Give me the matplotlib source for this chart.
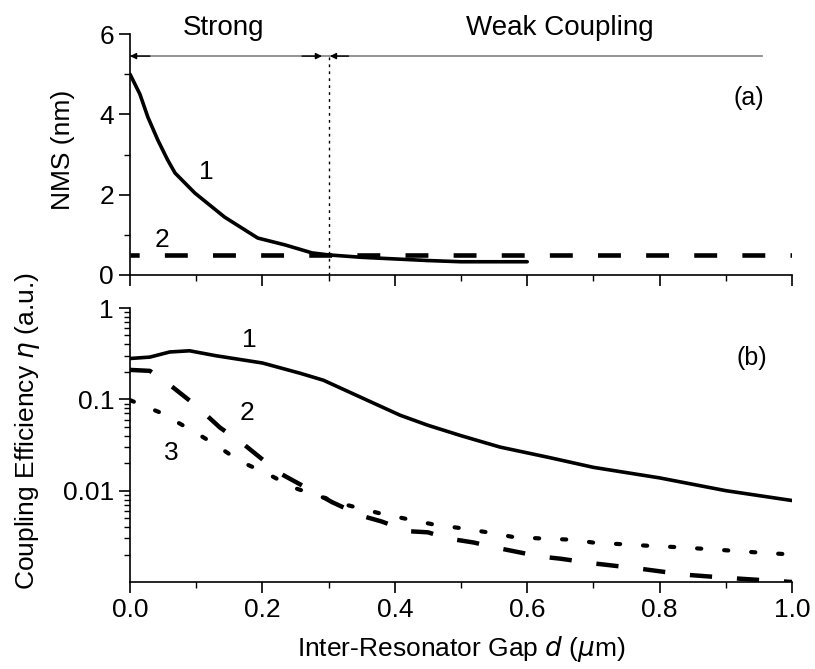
import matplotlib
matplotlib.use("Agg")
import matplotlib.pyplot as plt
from matplotlib.ticker import MultipleLocator, FixedLocator, LogLocator, NullFormatter

plt.rcParams['font.family'] = ['Liberation Sans', 'DejaVu Sans']

# ---- data: panel (a) NMS (nm) ----
a1_x = [0.0, 0.015, 0.027, 0.042, 0.057, 0.068, 0.098, 0.143, 0.193, 0.234, 0.275, 0.30,
        0.35, 0.4, 0.45, 0.5, 0.6]
a1_y = [5.0, 4.5, 3.93, 3.36, 2.86, 2.54, 2.04, 1.44, 0.92, 0.75, 0.55, 0.50,
        0.44, 0.40, 0.36, 0.33, 0.33]
a2_x = [0.0, 1.0]
a2_y = [0.5, 0.5]

# ---- data: panel (b) coupling efficiency ----
b1_x = [0.0, 0.03, 0.06, 0.09, 0.13, 0.2, 0.257, 0.292, 0.358, 0.408, 0.45, 0.5, 0.559, 0.634,
        0.7, 0.8, 0.9, 1.0]
b1_y = [0.28, 0.29, 0.33, 0.34, 0.30, 0.25, 0.193, 0.162, 0.098, 0.067, 0.052, 0.040, 0.030, 0.023,
        0.018, 0.0138, 0.010, 0.0078]
b2_x = [0.0, 0.03, 0.065, 0.1, 0.136, 0.17, 0.207, 0.23, 0.28, 0.305, 0.35, 0.38, 0.42, 0.45,
        0.48, 0.52, 0.55, 0.59, 0.62, 0.65, 0.7, 0.77, 0.84, 0.91, 1.0]
b2_y = [0.21, 0.205, 0.135, 0.085, 0.049, 0.033, 0.020, 0.015, 0.0095, 0.0075, 0.0053, 0.0046,
        0.0036, 0.0035, 0.0030, 0.0027, 0.0024, 0.0021, 0.0019, 0.0018, 0.0016, 0.0014, 0.0012,
        0.0011, 0.0010]
b3_x = [0.0, 0.045, 0.086, 0.126, 0.166, 0.207, 0.247, 0.29, 0.33, 0.375, 0.418, 0.456, 0.498,
        0.54, 0.58, 0.62, 0.67, 0.70, 0.74, 0.78, 0.83, 0.87, 0.91, 0.95, 1.0]
b3_y = [0.098, 0.072, 0.049, 0.033, 0.021, 0.0154, 0.0108, 0.0085, 0.0069, 0.0057, 0.0049, 0.0043,
        0.0039, 0.0035, 0.0031, 0.0030, 0.0029, 0.0027, 0.0026, 0.0025, 0.0024, 0.0023, 0.0022,
        0.0021, 0.0020]

region_boundary = 0.3
arrow_y = 5.45

W, H = 815, 669
fig = plt.figure(figsize=(W / 100, H / 100), dpi=100)
L, R = 130 / W, 792 / W
ax1 = fig.add_axes([L, 1 - 275 / H, R - L, (275 - 34) / H])
ax2 = fig.add_axes([L, 1 - 582 / H, R - L, (582 - 308) / H])

tick_fs = 19
lab_fs = 19

for ax in (ax1, ax2):
    ax.spines['top'].set_visible(False)
    ax.spines['right'].set_visible(False)
    ax.spines['left'].set_linewidth(1.2)
    ax.spines['bottom'].set_linewidth(1.2)
    ax.set_xlim(0, 1.0)
    ax.xaxis.set_major_locator(MultipleLocator(0.2))
    ax.xaxis.set_minor_locator(MultipleLocator(0.1))
    ax.tick_params(which='major', direction='out', length=8, width=1.2, labelsize=tick_fs)
    ax.tick_params(which='minor', direction='out', length=4, width=1.0)

# ---- panel (a) ----
ax1.plot(a1_x, a1_y, color='black', lw=2.6, solid_capstyle='round')
ax1.plot(a2_x, a2_y, color='black', lw=3.3, linestyle=(3, (5, 5.5)))
ax1.set_ylim(0, 6)
ax1.yaxis.set_major_locator(MultipleLocator(2))
ax1.yaxis.set_minor_locator(MultipleLocator(1))
ax1.tick_params(axis='x', labelbottom=False)
ax1.set_ylabel('NMS (nm)', fontsize=lab_fs)
ax1.yaxis.set_label_coords(-0.083, 0.52)

# region markers
ax1.plot([region_boundary, region_boundary], [0, arrow_y], color='black', lw=1.0,
         linestyle=(0, (2, 3)))
ax1.plot([0.0, 0.955], [arrow_y, arrow_y], color='#8a8a8a', lw=1.3)
head = dict(arrowstyle='-|>', color='black', lw=1.0, mutation_scale=9, shrinkA=0, shrinkB=0)
ax1.annotate('', xy=(0.0, arrow_y), xytext=(0.03, arrow_y), arrowprops=head)
ax1.annotate('', xy=(0.29, arrow_y), xytext=(0.26, arrow_y), arrowprops=head)
ax1.annotate('', xy=(0.302, arrow_y), xytext=(0.33, arrow_y), arrowprops=head)

ax1.text(0.141, 5.97, 'Strong', fontsize=20, ha='center', va='baseline')
ax1.text(0.65, 5.97, 'Weak Coupling', fontsize=20, ha='center', va='baseline')
ax1.text(0.116, 2.56, '1', fontsize=19, ha='center', va='center')
ax1.text(0.048, 0.87, '2', fontsize=19, ha='center', va='center')
ax1.text(0.935, 4.4, '(a)', fontsize=18, ha='center', va='center')

# ---- panel (b) ----
ax2.set_yscale('log')
ax2.plot(b1_x, b1_y, color='black', lw=2.6)
ax2.plot(b2_x, b2_y, color='black', lw=3.2, linestyle=(0, (5, 5.6)))
ax2.plot(b3_x, b3_y, color='black', lw=3.0, linestyle=(0, (1, 5.5)), dash_capstyle='round')
ax2.set_ylim(0.001, 1)
ax2.yaxis.set_major_locator(FixedLocator([0.01, 0.1, 1]))
ax2.set_yticklabels(['0.01', '0.1', '1'])
ax2.yaxis.set_minor_locator(LogLocator(base=10, subs=range(2, 10)))
ax2.yaxis.set_minor_formatter(NullFormatter())
ax2.set_xticks([0.0, 0.2, 0.4, 0.6, 0.8, 1.0])
ax2.set_xticklabels(['0.0', '0.2', '0.4', '0.6', '0.8', '1.0'])
ax2.set_ylabel(r'Coupling Efficiency $\eta$ (a.u.)', fontsize=lab_fs)
ax2.yaxis.set_label_coords(-0.133, 0.55)
ax2.set_xlabel(r'Inter-Resonator Gap $d$ ($\mu$m)', fontsize=lab_fs)
ax2.xaxis.set_label_coords(0.5, -0.19)
ax2.text(0.18, 0.45, '1', fontsize=19, ha='center', va='center')
ax2.text(0.177, 0.07, '2', fontsize=19, ha='center', va='center')
ax2.text(0.063, 0.026, '3', fontsize=19, ha='center', va='center')
ax2.text(0.94, 0.28, '(b)', fontsize=18, ha='center', va='center')

fig.savefig('out.png', dpi=100)
